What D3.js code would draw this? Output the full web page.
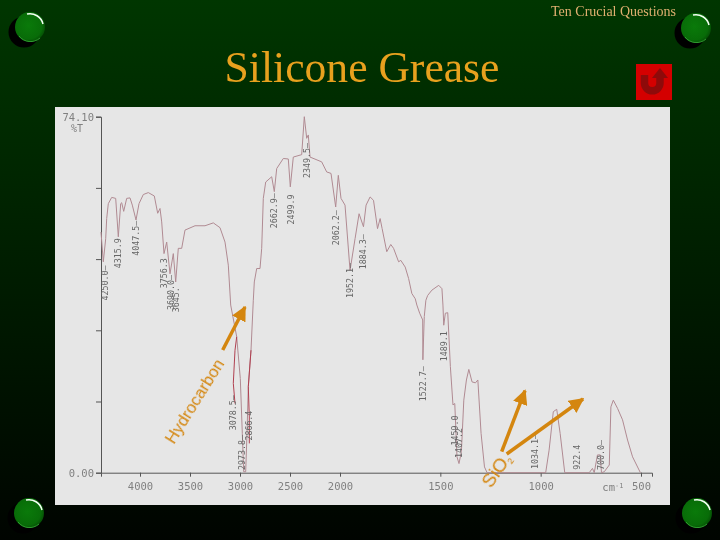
<!DOCTYPE html>
<html><head><meta charset="utf-8">
<script src="https://cdnjs.cloudflare.com/ajax/libs/d3/7.8.5/d3.min.js"></script>
<style>html,body{margin:0;padding:0;background:#000}svg{display:block}</style>
</head><body><svg id="c" width="720" height="540"></svg>
<script>
const titleText = "Silicone Grease";
const headerText = "Ten Crucial Questions";
const wavenumbers = [4390,4367,4343,4333,4317,4283,4243,4217,4193,4183,4163,4133,4100,4077,4040,4010,3967,3917,3857,3823,3800,3783,3760,3733,3700,3667,3643,3617,3583,3550,3450,3350,3267,3200,3150,3117,3093,3033,2997,2977,2963,2943,2930,2917,2890,2867,2857,2833,2800,2783,2767,2743,2683,2657,2633,2567,2517,2497,2467,2383,2357,2333,2317,2300,2183,2133,2090,2043,2017,1995,1975,1950,1925,1905,1883,1870,1850,1833,1813,1800,1790,1767,1747,1733,1708,1697,1675,1658,1642,1625,1617,1603,1588,1587,1580,1572,1563,1542,1508,1492,1487,1483,1475,1463,1450,1437,1428,1417,1407,1395,1383,1370,1358,1342,1325,1313,1297,1280,1267,975,958,937,920,903,880,758,742,733,717,703,697,683,658,650,638,617,592,567,542,503];
const transmittance = [50.1,43.9,48.7,52.9,56.0,57.3,57.1,49.1,56.0,56.2,54.4,57.1,57.2,55.7,52.6,56.0,57.9,58.3,57.6,54.0,55.0,52.2,45.6,48.0,41.4,45.6,39.7,46.7,46.7,50.5,51.4,51.4,52.0,51.0,48.0,43.2,34.9,28.3,19.6,8.2,0.2,0.2,8.2,17.9,25.5,35.9,39.7,42.5,42.5,46.7,57.1,60.5,61.6,58.5,63.3,65.4,65.3,59.5,65.7,66.2,74.1,69.6,70.3,65.7,64.7,62.6,62.3,55.3,61.9,57.1,55.7,42.1,48.7,53.9,51.2,55.7,57.4,56.7,50.8,52.9,50.8,46.0,47.5,46.7,43.9,44.2,42.8,40.4,37.3,36.2,34.9,33.2,31.8,23.5,32.5,35.9,36.9,38.0,39.0,38.3,34.9,30.7,33.2,33.3,22.1,14.1,14.4,3.3,1.9,4.4,15.1,19.3,21.5,18.9,18.7,19.3,8.2,1.2,0,0,4.7,12.7,13.2,8.2,0,0,0.9,0,3.7,3.7,0,0.2,1.6,13.7,15.1,13.4,11,6.8,3.3,0];
const sideBandAWn = [3033,3050,3067,3050];
const sideBandAT = [28.3,25.5,18.6,14.4];
const sideBandBWn = [2890,2917,2907,2907];
const sideBandBT = [25.5,17.9,11.6,6.1];
const peakLabels = ["4250.0—","4315.9","4047.5—","3756.3","3690.0—","3645.","3078.5—","2973.8—","2866.4","2662.9—","2499.9","2349.5—","2062.2—","1952.1—","1884.3—","1522.7—","1489.1","1459.0","1407.2","1034.1—","922.4","700.0—"];
const peakLabelWn = [4350,4217,4040,3757,3690,3640,3067,2977,2907,2657,2490,2333,2043,1950,1883,1587,1483,1428,1407,1027,817,697];
const peakLabelT = [39.5,45.7,48.8,41.5,37.5,36,12.5,4.2,9.8,54.5,54.8,65,51,40,46,18.5,26.3,8.8,6.2,4.4,3.2,3.7];
const xTicks = [4000,3500,3000,2500,2000,1500,1000,500];
const yTicks = [0,14.82,29.64,44.46,59.28,74.1];
const bullets = [[30,27,1],[696,28,1],[29,513,0],[697,513,0]];

const svg = d3.select("#c");
const defs = svg.append("defs");
const bg = defs.append("linearGradient").attr("id","bg").attr("x1",0).attr("y1",0).attr("x2",0).attr("y2",1);
bg.append("stop").attr("offset",0).attr("stop-color","#003600");
bg.append("stop").attr("offset",1).attr("stop-color","#000400");
const ball = defs.append("radialGradient").attr("id","ball").attr("cx",0.45).attr("cy",0.45).attr("r",0.6);
ball.append("stop").attr("offset",0).attr("stop-color","#0a7a0a");
ball.append("stop").attr("offset",0.75).attr("stop-color","#086c08");
ball.append("stop").attr("offset",1).attr("stop-color","#044a04");
defs.append("filter").attr("id","soft").append("feGaussianBlur").attr("stdDeviation",0.4);
defs.append("marker").attr("id","head").attr("viewBox","0 0 10 10").attr("refX",9).attr("refY",5)
  .attr("markerUnits","userSpaceOnUse").attr("markerWidth",15).attr("markerHeight",15).attr("orient","auto")
  .append("path").attr("d","M0,0L10,5L0,10Z").attr("fill","#d4860f");

svg.append("rect").attr("width",720).attr("height",540).attr("fill","url(#bg)");
svg.append("rect").attr("x",55).attr("y",107).attr("width",615).attr("height",398).attr("fill","#e6e6e6");

const x = d3.scaleLinear().domain([4390,2000,500,445]).range([101,340,641,652]);
const y = d3.scaleLinear().domain([0,74.1]).range([472.7,116.7]);
const plot = svg.append("g").attr("filter","url(#soft)");

const ax = plot.append("g").attr("transform","translate(0,472.7)")
  .call(d3.axisBottom(x).tickValues(xTicks).tickSize(4).tickPadding(6).tickFormat(d3.format("d")));
const ay = plot.append("g").attr("transform","translate(101,0)")
  .call(d3.axisLeft(y).tickValues(yTicks).tickSize(5).tickPadding(2)
    .tickFormat(d => d===0 ? "0.00" : d===74.1 ? "74.10" : ""));
[ax,ay].forEach(a => {
  a.selectAll("path,line").attr("stroke","#555").attr("stroke-width",1);
  a.selectAll("text").attr("fill","#808080").attr("font-family","DejaVu Sans Mono").attr("font-size",10.5);
});
plot.append("text").attr("x",77).attr("y",132).attr("text-anchor","middle").attr("fill","#808080")
  .attr("font-family","DejaVu Sans Mono").attr("font-size",10).text("%T");
plot.append("text").attr("x",x(640)).attr("y",491).attr("text-anchor","middle").attr("fill","#808080")
  .attr("font-family","DejaVu Sans Mono").attr("font-size",10.5).html('cm<tspan dy="-3" font-size="7">-1</tspan>');

const line = d3.line().x(d => x(d[0])).y(d => y(d[1]));
plot.append("path").datum(d3.zip(wavenumbers,transmittance)).attr("d",line)
  .attr("fill","none").attr("stroke","#b08a92").attr("stroke-width",1);
[[sideBandAWn,sideBandAT],[sideBandBWn,sideBandBT]].forEach(([w,t]) =>
  plot.append("path").datum(d3.zip(w,t)).attr("d",line).attr("fill","none").attr("stroke","#b04050").attr("stroke-width",1));

plot.selectAll("text.peak").data(d3.zip(peakLabels,peakLabelWn,peakLabelT)).join("text").attr("class","peak")
  .attr("transform",d => `translate(${x(d[1])+3},${y(d[2])}) rotate(-90)`)
  .attr("text-anchor","middle").attr("fill","#666").attr("font-family","DejaVu Sans Mono").attr("font-size",8.5)
  .attr("textLength",d => d[0].length*5).attr("lengthAdjust","spacingAndGlyphs").text(d => d[0]);

// annotations
const orange = "#d4860f";
svg.append("text").attr("transform","translate(174,445) rotate(-58)").attr("fill",orange)
  .attr("font-family","Liberation Sans").attr("font-size",16.8).text("Hydrocarbon");
const siO = svg.append("text").attr("transform","translate(491,489) rotate(-55)").attr("fill",orange)
  .attr("font-family","Liberation Sans").attr("font-size",19);
siO.append("tspan").text("SiO");
siO.append("tspan").attr("dy",3).attr("font-size",9).text("2");
const arrows = [["Hydrocarbon",222.7,350,245,307],["SiO",501.7,451.7,525,390.7],["SiO",506.7,454,583,399]];
svg.selectAll("line.arrow").data(arrows).join("line").attr("class","arrow")
  .attr("x1",d=>d[1]).attr("y1",d=>d[2]).attr("x2",d=>d[3]).attr("y2",d=>d[4])
  .attr("stroke",orange).attr("stroke-width",3.5).attr("marker-end","url(#head)");

// titles
svg.append("text").attr("x",362).attr("y",82).attr("text-anchor","middle").attr("fill","#e8a11e")
  .attr("font-family","Liberation Serif").attr("font-size",43.6).text(titleText);
svg.append("text").attr("x",676).attr("y",16).attr("text-anchor","end").attr("fill","#e0b070")
  .attr("font-family","Liberation Serif").attr("font-size",14).text(headerText);

// return button
const btn = svg.append("g");
btn.append("rect").attr("x",636).attr("y",64).attr("width",36).attr("height",36).attr("fill","#d40000");
btn.append("path").attr("d","M644.5,75V83A7.7,7.7 0 0 0 660,83V76").attr("fill","none").attr("stroke","#8e0a0a").attr("stroke-width",7.5);
btn.append("path").attr("d","M660,68L668,78H652Z").attr("fill","#8e0a0a");

// corner bullets
const b = svg.selectAll("g.b").data(bullets).join("g").attr("class","b")
  .attr("transform",d=>`translate(${d[0]},${d[1]})`);
b.append("circle").attr("cx",-6).attr("cy",5).attr("r",15.5).attr("fill","#000");
b.append("circle").attr("r",15).attr("fill","url(#ball)");
b.append("path").attr("d","M-3,-13A13.5,13.5 0 0 1 13,-3").attr("fill","none").attr("stroke","#f4fff4").attr("stroke-width",1.5);
b.append("path").attr("d","M-11,9A14.5,14.5 0 0 0 10,11").attr("fill","none").attr("stroke","#2f9a2f").attr("stroke-width",1);
</script></body></html>
